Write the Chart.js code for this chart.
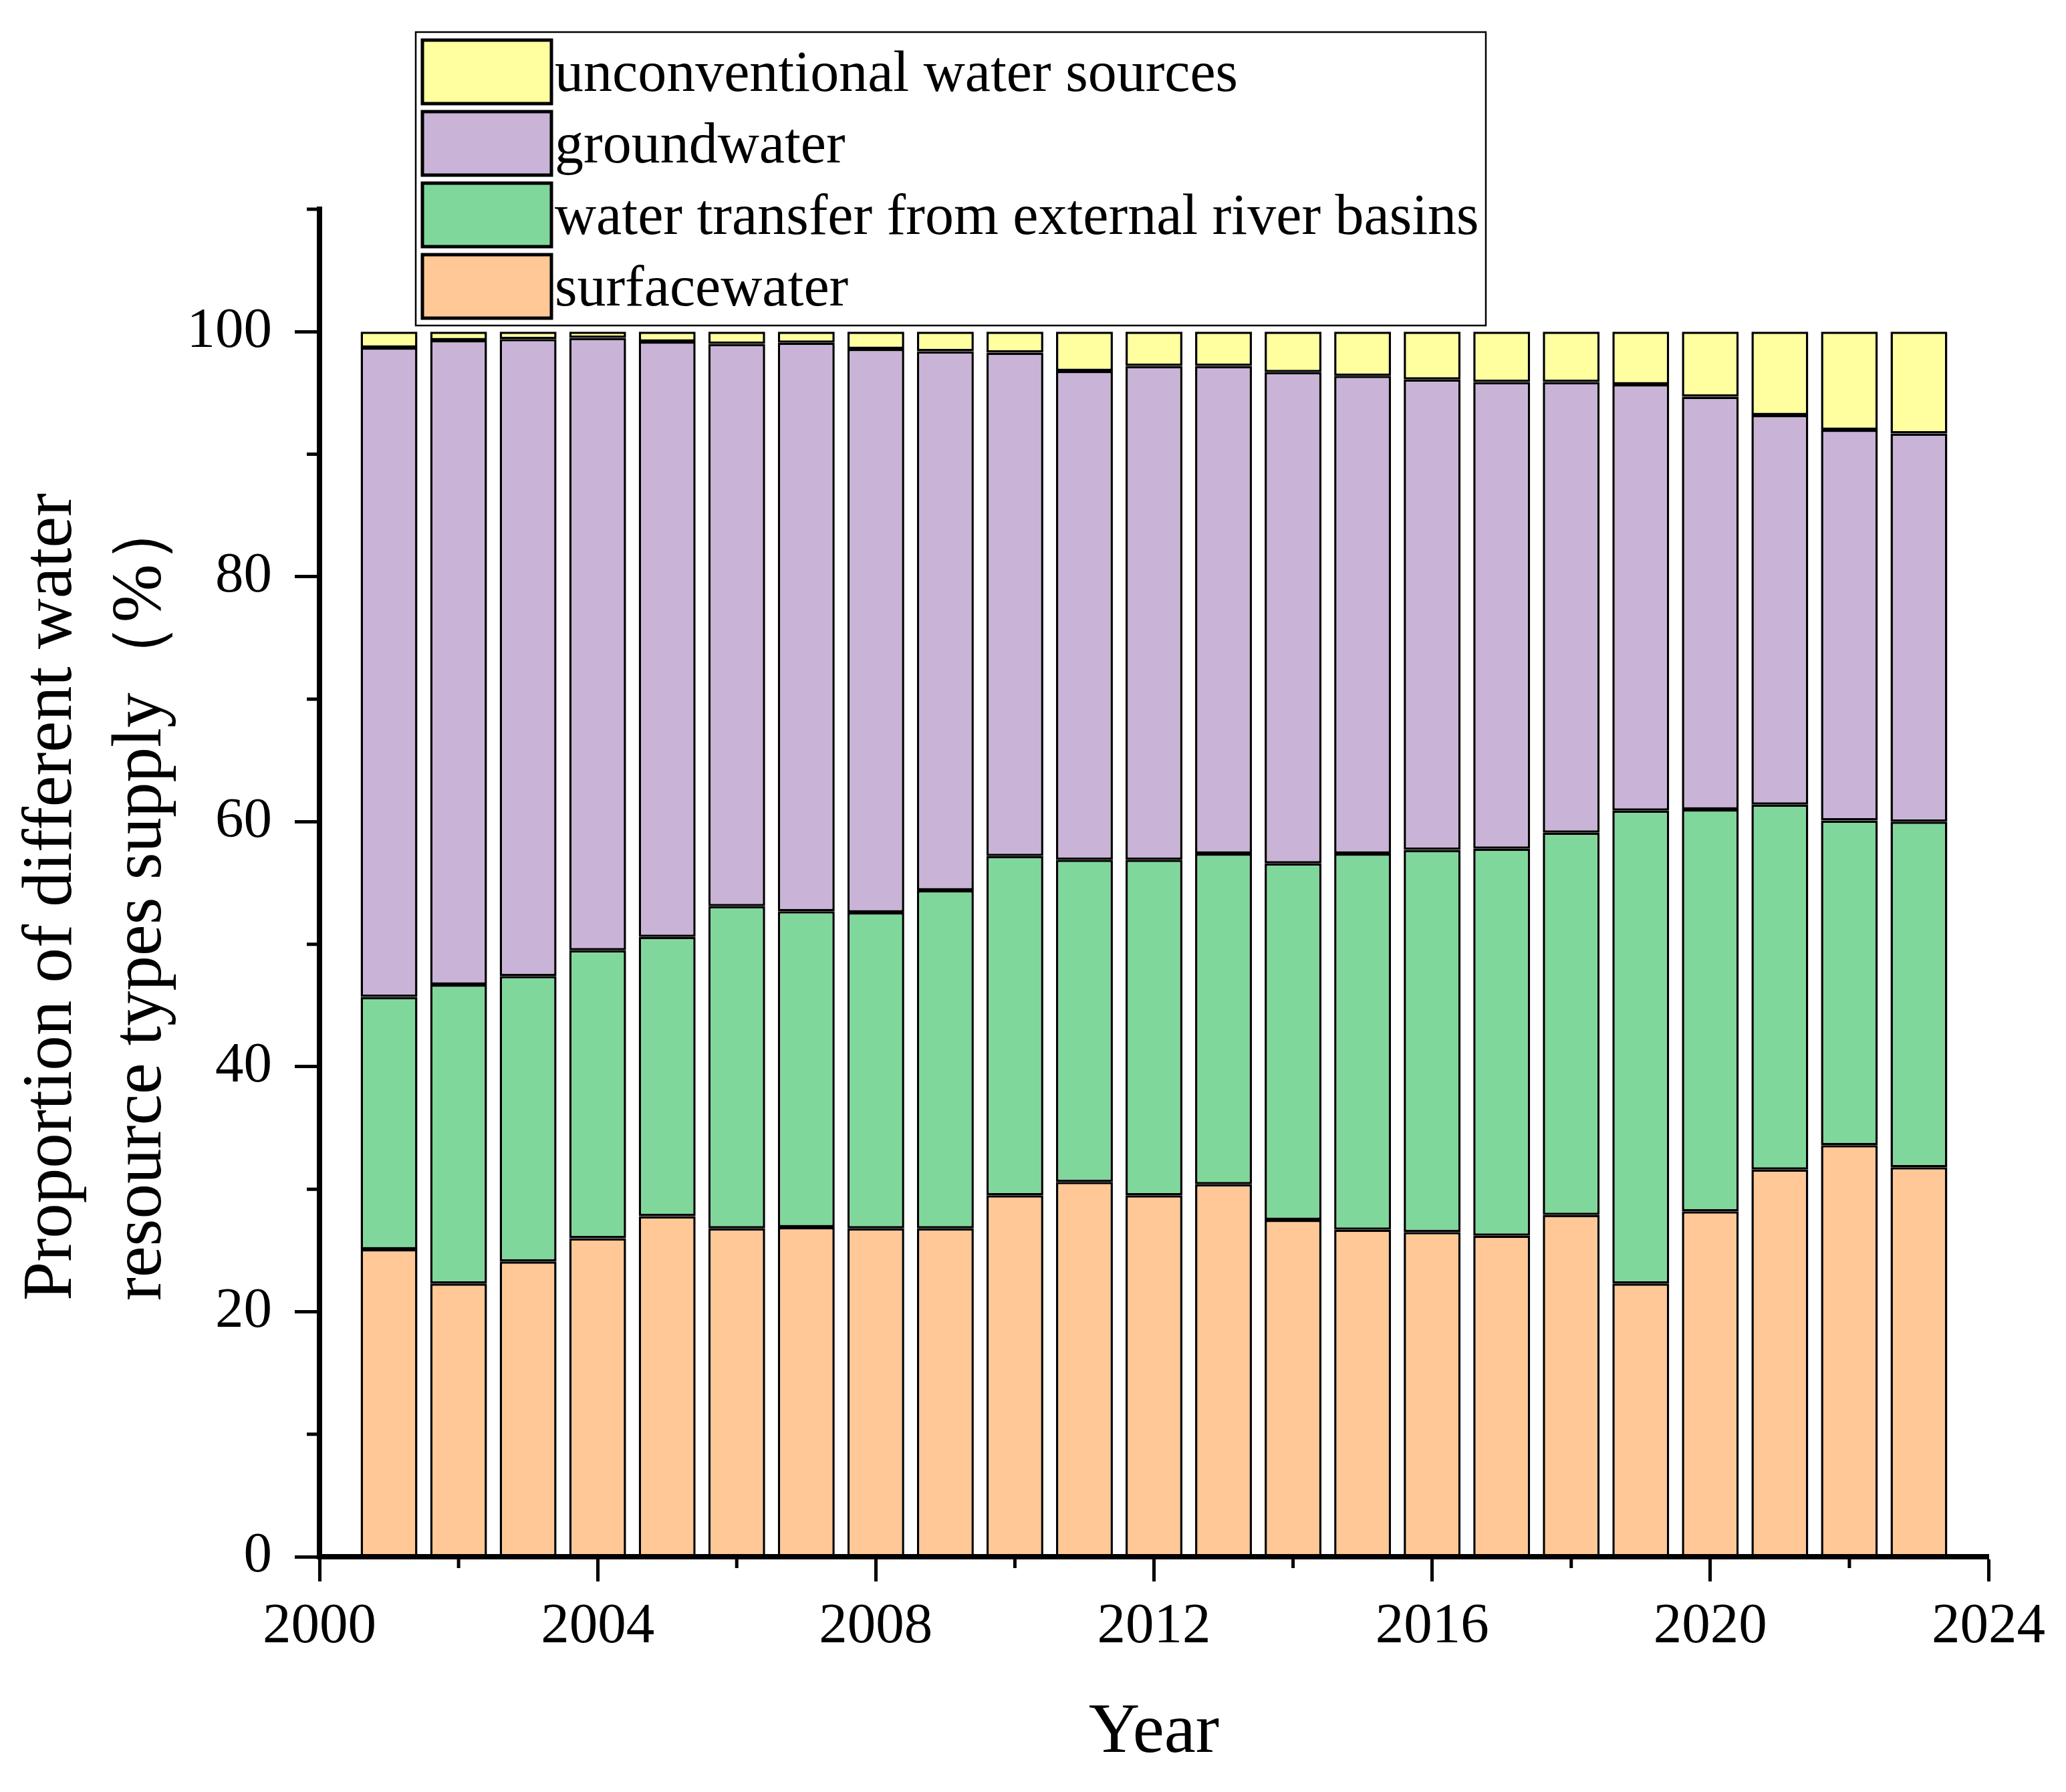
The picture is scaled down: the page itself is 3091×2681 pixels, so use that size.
<!DOCTYPE html>
<html>
<head>
<meta charset="utf-8">
<script src="https://cdn.jsdelivr.net/npm/chart.js@4.4.1/dist/chart.umd.min.js"></script>
<style>
html, body { margin: 0; padding: 0; background: #fff; }
#wrap { width: 3091px; height: 2681px; }
</style>
</head>
<body>
<div id="wrap"><canvas id="myChart" width="3091" height="2681"></canvas></div>
<script>
//datos de la grafica (porcentajes por año)
var years = [2001,2002,2003,2004,2005,2006,2007,2008,2009,2010,2011,2012,2013,2014,2015,2016,2017,2018,2019,2020,2021,2022,2023];
var surfacewater = [25.1,22.3,24.1,26.0,27.8,26.8,26.9,26.8,26.8,29.5,30.6,29.5,30.4,27.5,26.7,26.5,26.2,27.9,22.3,28.2,31.6,33.6,31.8];
var transfer = [20.6,24.4,23.3,23.5,22.8,26.3,25.8,25.8,27.6,27.7,26.3,27.4,27.0,29.1,30.7,31.2,31.6,31.2,38.6,32.8,29.8,26.5,28.2];
var groundwater = [53.0,52.6,52.0,50.0,48.6,45.9,46.4,46.0,44.0,41.1,39.9,40.3,39.8,40.1,39.0,38.4,38.1,36.8,34.8,33.7,31.8,31.9,31.7];
var unconventional = [1.3,0.7,0.6,0.5,0.8,1.0,0.9,1.4,1.6,1.7,3.2,2.8,2.8,3.3,3.6,3.9,4.1,4.1,4.3,5.3,6.8,8.0,8.3];

var seriesNames = ['surfacewater','water transfer from external river basins','groundwater','unconventional water sources'];
var seriesColors = ['#FFC896','#80D79C','#C9B4D7','#FFFFA0'];
var yTitle = ['Proportion of different water', 'resource types supply（%）'];

//marcas de los ejes
var yMajor = [0,20,40,60,80,100];
var yMinor = [10,30,50,70,90,110];
var xMajor = [2000,2004,2008,2012,2016,2020,2024];
var xMinor = [2002,2006,2010,2014,2018,2022];

var fontName = '"Liberation Serif", "Times New Roman", serif';

function serie(values){
    return years.map(function(y,i){ return {x: y, y: values[i]}; });
}

//marcas menores de los ejes
var minorTicks = {
    id: 'minorTicks',
    afterDraw: function(chart){
        var ctx = chart.ctx;
        var xs = chart.scales.x, ys = chart.scales.y;
        ctx.save();
        ctx.strokeStyle = '#000';
        ctx.lineWidth = 5;
        ctx.beginPath();
        yMinor.forEach(function(v){
            var p = ys.getPixelForValue(v);
            ctx.moveTo(ys.right, p);
            ctx.lineTo(ys.right - 19, p);
        });
        xMinor.forEach(function(v){
            var p = xs.getPixelForValue(v);
            ctx.moveTo(p, xs.top);
            ctx.lineTo(p, xs.top + 17);
        });
        ctx.stroke();
        ctx.restore();
    }
};

//titulo del eje y en dos lineas
var yTitlePlugin = {
    id: 'yTitlePlugin',
    afterDraw: function(chart){
        var ctx = chart.ctx;
        ctx.save();
        ctx.fillStyle = '#000';
        ctx.font = '105px ' + fontName;
        ctx.textAlign = 'left';
        ctx.textBaseline = 'alphabetic';
        for (var i = 0; i < yTitle.length; i++){
            ctx.save();
            ctx.translate(106 + i * 134, 1946);
            ctx.rotate(-Math.PI / 2);
            ctx.fillText(yTitle[i], 0, 0);
            ctx.restore();
        }
        ctx.restore();
    }
};

//leyenda en caja
var legendBox = {
    id: 'legendBox',
    afterDraw: function(chart){
        var ctx = chart.ctx;
        var sets = chart.data.datasets;
        ctx.save();
        ctx.fillStyle = '#fff';
        ctx.fillRect(622, 48, 1601, 439);
        ctx.strokeStyle = '#000';
        ctx.lineWidth = 2.5;
        ctx.strokeRect(622, 48, 1601, 439);
        ctx.font = '86px ' + fontName;
        ctx.textBaseline = 'alphabetic';
        for (var i = 0; i < sets.length; i++){
            var ds = sets[sets.length - 1 - i];
            var top = 60 + i * 107;
            ctx.fillStyle = ds.backgroundColor;
            ctx.fillRect(632, top, 193, 95);
            ctx.lineWidth = 5;
            ctx.strokeRect(632, top, 193, 95);
            ctx.fillStyle = '#000';
            ctx.fillText(ds.label, 830, top + 76);
        }
        ctx.restore();
    }
};

var ctx = document.getElementById('myChart').getContext('2d');
var myChart = new Chart(ctx, {
    type: 'bar',
    data: {
        datasets: [
            {label: seriesNames[0], data: serie(surfacewater), backgroundColor: seriesColors[0]},
            {label: seriesNames[1], data: serie(transfer), backgroundColor: seriesColors[1]},
            {label: seriesNames[2], data: serie(groundwater), backgroundColor: seriesColors[2]},
            {label: seriesNames[3], data: serie(unconventional), backgroundColor: seriesColors[3]}
        ]
    },
    options: {
        responsive: false,
        devicePixelRatio: 1,
        animation: false,
        layout: { padding: {left: 0, top: 313, right: 116, bottom: 0} },
        datasets: {
            bar: {
                borderColor: '#000',
                borderWidth: 3.5,
                borderSkipped: false,
                barPercentage: 0.817,
                categoryPercentage: 1
            }
        },
        plugins: {
            legend: { display: false },
            tooltip: { enabled: false }
        },
        scales: {
            x: {
                type: 'linear',
                stacked: true,
                offset: false,
                min: 2000,
                max: 2024,
                grid: { display: true, offset: false, drawOnChartArea: false, drawTicks: true, tickLength: 37, tickWidth: 5, tickColor: '#000' },
                border: { display: true, width: 8, color: '#000' },
                afterBuildTicks: function(scale){
                    scale.ticks = xMajor.map(function(v){ return {value: v}; });
                },
                ticks: {
                    autoSkip: false,
                    maxRotation: 0,
                    padding: 18,
                    color: '#000',
                    font: { family: fontName, size: 85 },
                    callback: function(v){ return String(v); }
                },
                title: {
                    display: true,
                    text: 'Year',
                    color: '#000',
                    font: { family: fontName, size: 106, lineHeight: 1.2 },
                    padding: { top: 0, bottom: 24 }
                },
                afterFit: function(scale){ scale.height = 352; }
            },
            y: {
                stacked: true,
                min: 0,
                max: 110,
                grid: { display: true, drawOnChartArea: false, drawTicks: true, tickLength: 37, tickWidth: 5, tickColor: '#000' },
                border: { display: true, width: 8, color: '#000' },
                afterBuildTicks: function(scale){
                    scale.ticks = yMajor.map(function(v){ return {value: v}; });
                },
                ticks: {
                    padding: 34,
                    color: '#000',
                    font: { family: fontName, size: 85 }
                },
                title: { display: false },
                afterFit: function(scale){ scale.width = 478; }
            }
        }
    },
    plugins: [minorTicks, yTitlePlugin, legendBox]
});
</script>
</body>
</html>
